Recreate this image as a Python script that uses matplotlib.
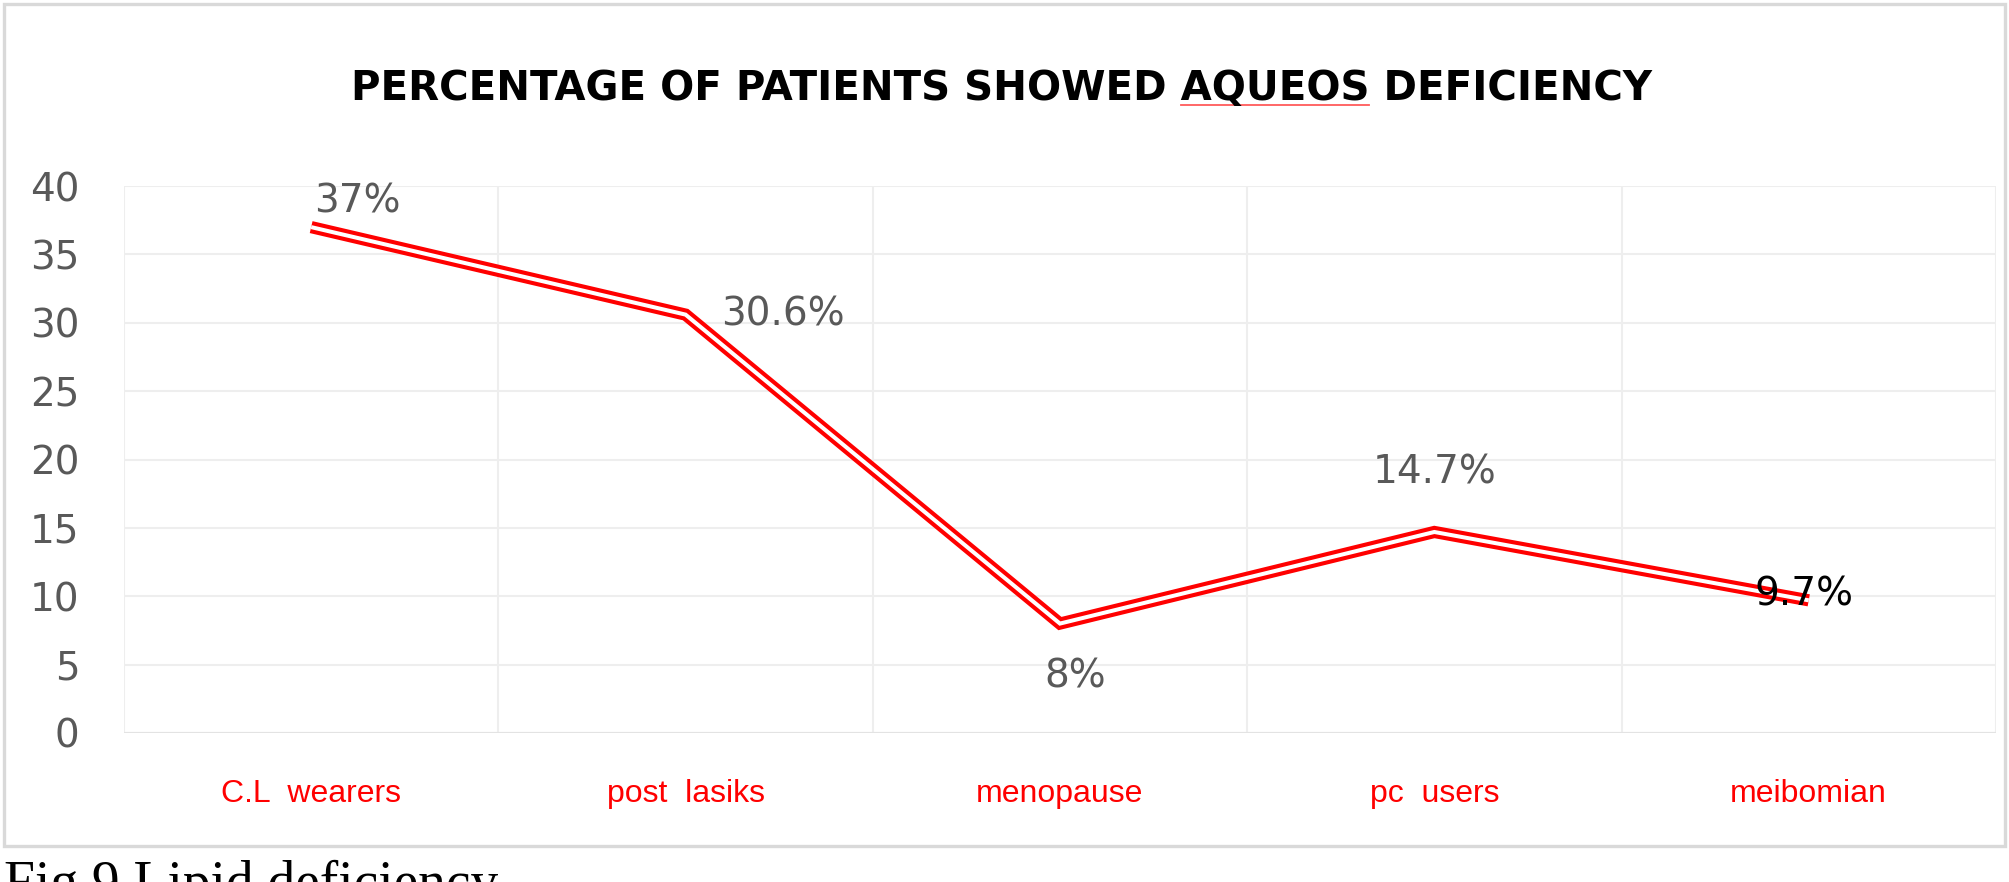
import matplotlib

matplotlib.use("Agg")
import matplotlib.pyplot as plt
import numpy as np
from matplotlib.lines import Line2D
from matplotlib.patches import Rectangle

categories = ["C.L  wearers", "post  lasiks", "menopause", "pc  users", "meibomian"]
values = [37, 30.6, 8, 14.7, 9.7]
value_labels = ["37%", "30.6%", "8%", "14.7%", "9.7%"]
y_ticks = [0, 5, 10, 15, 20, 25, 30, 35, 40]

TITLE = "PERCENTAGE OF PATIENTS SHOWED AQUEOS DEFICIENCY"
GRAY = "#595959"
GRID = "#eeeeee"


def main():
    fig = plt.figure(figsize=(20.09, 8.82), dpi=100)
    ax = fig.add_axes([0.0617, 0.169, 0.9318, 0.620])

    x = np.arange(len(categories))

    # double line: thick red with a white core
    ax.plot(x, values, color="red", linewidth=8.8,
            solid_capstyle="butt", solid_joinstyle="miter", zorder=3)
    ax.plot(x, values, color="white", linewidth=2.9,
            solid_capstyle="butt", solid_joinstyle="miter", zorder=4)

    # data labels (offsets in pixels)
    label_pos = [
        ((3, 26), "left", GRAY),
        ((36, 0), "left", GRAY),
        ((15, -53), "center", GRAY),
        ((0, 59), "center", GRAY),
        ((-5, 6), "center", "black"),
    ]
    for xi, v, txt, (off, ha, col) in zip(x, values, value_labels, label_pos):
        ax.annotate(txt, (xi, v), xytext=off, textcoords="offset pixels",
                    ha=ha, va="center", fontsize=28, color=col, zorder=5)

    ax.set_xlim(-0.5, len(categories) - 0.5)
    ax.set_ylim(0, 40)
    ax.set_yticks(y_ticks)
    ax.set_xticks(x, categories, family="Liberation Sans")
    ax.set_xticks(np.arange(-0.5, len(categories), 1), minor=True)

    ax.tick_params(axis="y", length=0, pad=32, labelsize=28, labelcolor=GRAY)
    ax.tick_params(axis="x", which="both", length=0, pad=33,
                   labelsize=23, labelcolor="red")

    ax.grid(axis="y", which="major", color=GRID, linewidth=1.5)
    ax.grid(axis="x", which="minor", color=GRID, linewidth=1.5)
    ax.grid(axis="x", which="major", visible=False)
    for s in ax.spines.values():
        s.set_visible(False)
    ax.axhline(0, color="#e3e3e3", linewidth=1.5, zorder=1)
    ax.set_axisbelow(True)

    # title
    kw = dict(fontsize=29, fontweight="bold", color="black")
    title = fig.text(0.4985, 0.8866, TITLE, ha="center", va="baseline", **kw)

    # red spell-check underline below AQUEOS
    fig.canvas.draw()
    r = fig.canvas.get_renderer()
    bb = title.get_window_extent(r)
    tmp = fig.text(0, 0, "PERCENTAGE OF PATIENTS SHOWED AQUEOS", **kw)
    w_full = tmp.get_window_extent(r).width
    tmp.set_text("AQUEOS")
    w_word = tmp.get_window_extent(r).width
    tmp.remove()
    x1 = (bb.x0 + w_full) / fig.bbox.width
    x0 = (bb.x0 + w_full - w_word) / fig.bbox.width
    fig.add_artist(Line2D([x0, x1], [0.881, 0.881], color="#ff5a5a",
                          linewidth=1.3, transform=fig.transFigure))

    # chart border
    fig.add_artist(Rectangle((4 / 2009, 1 - 846 / 882), 2001 / 2009, 842 / 882,
                             transform=fig.transFigure, fill=False,
                             edgecolor="#d9d9d9", linewidth=2.4))

    # caption, cut off at the bottom as in the source
    fig.text(0.002, -0.02, "Fig.9 Lipid deficiency", ha="left", va="baseline",
             fontsize=40, family="Liberation Serif", color="black")

    fig.savefig("out.png", dpi=100, facecolor="white")


if __name__ == "__main__":
    main()
